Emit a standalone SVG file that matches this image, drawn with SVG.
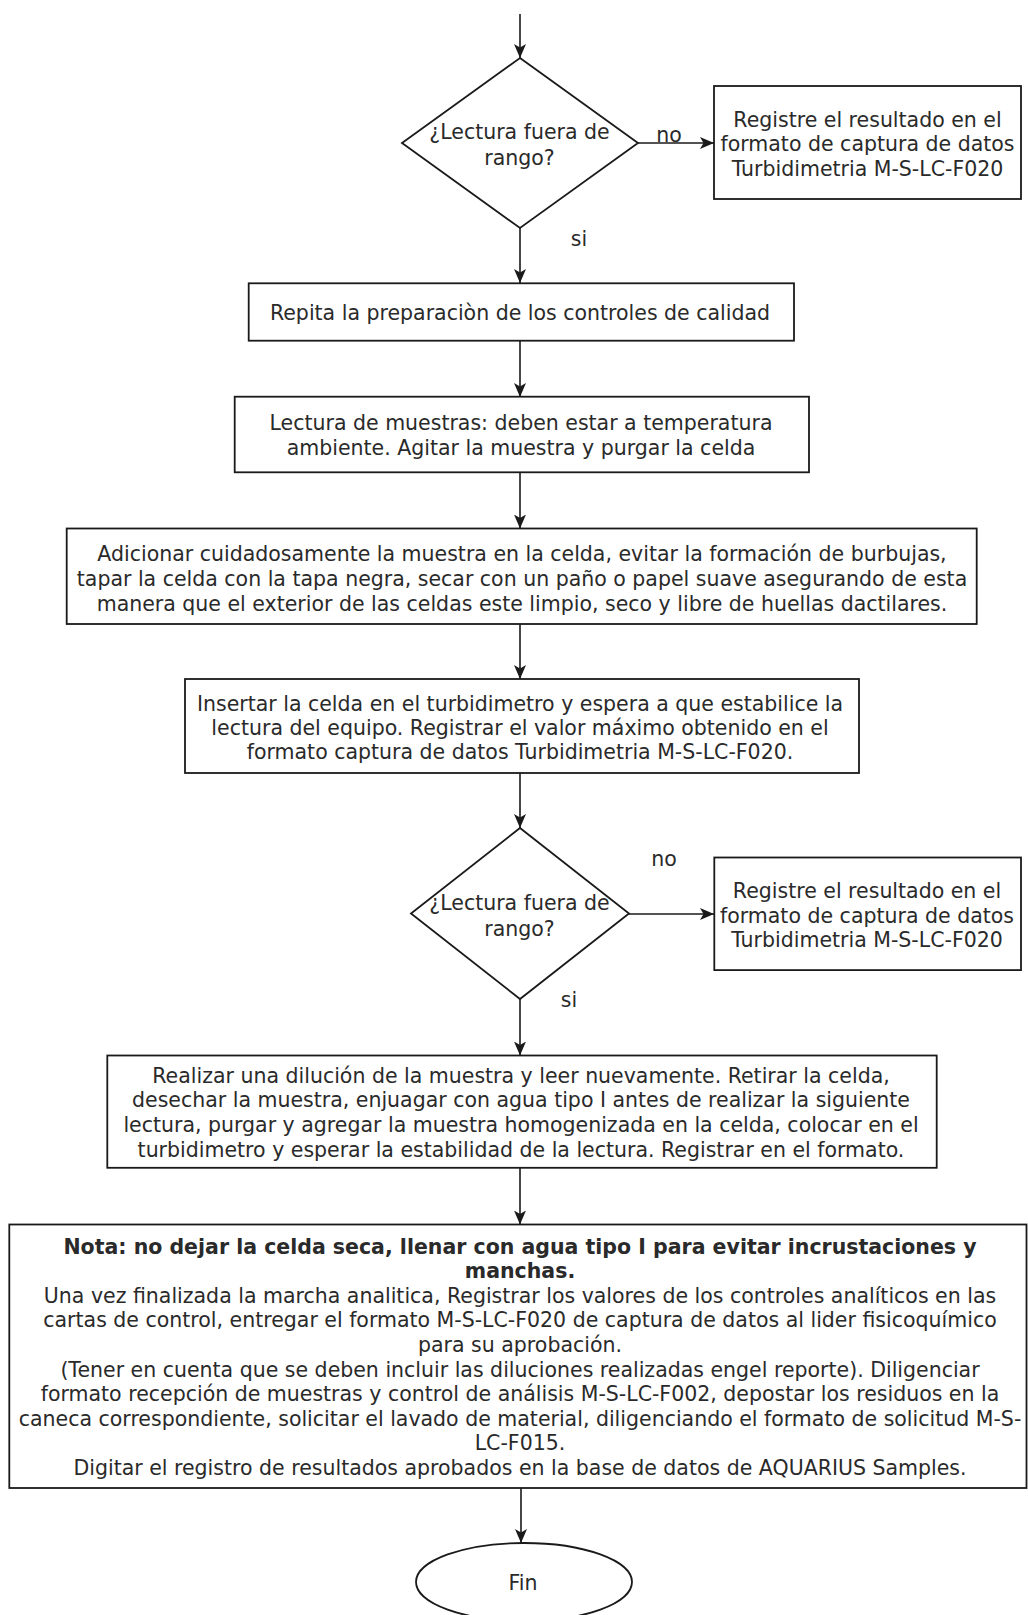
<svg xmlns="http://www.w3.org/2000/svg" width="1028" height="1615" viewBox="0 0 1028 1615">
<style>
.shape{fill:#fff;stroke:#1a1a1a;stroke-width:1.8}
.edge{fill:none;stroke:#1a1a1a;stroke-width:1.6}
text{font-family:"DejaVu Sans","Verdana",sans-serif;font-size:20.5px;fill:#2a2a2a;text-anchor:middle}
.b{font-weight:bold}
</style>
<defs>
<marker id="arr" markerUnits="userSpaceOnUse" markerWidth="14" markerHeight="12" refX="14" refY="6" orient="auto">
<path d="M0,0 L14,6 L0,12 L3.5,6 Z" fill="#1a1a1a"/>
</marker>
</defs>
<rect width="1028" height="1615" fill="#fff"/>
<g id="connectors">
<line class="edge" x1="520" y1="14" x2="520" y2="58" marker-end="url(#arr)"/>
<line class="edge" x1="638" y1="143" x2="714" y2="143" marker-end="url(#arr)"/>
<line class="edge" x1="520" y1="228" x2="520" y2="283" marker-end="url(#arr)"/>
<line class="edge" x1="520" y1="341" x2="520" y2="397" marker-end="url(#arr)"/>
<line class="edge" x1="520" y1="472" x2="520" y2="528.5" marker-end="url(#arr)"/>
<line class="edge" x1="520" y1="624" x2="520" y2="679" marker-end="url(#arr)"/>
<line class="edge" x1="520" y1="773" x2="520" y2="828" marker-end="url(#arr)"/>
<line class="edge" x1="629" y1="914" x2="714" y2="914" marker-end="url(#arr)"/>
<line class="edge" x1="520" y1="999" x2="520" y2="1055.5" marker-end="url(#arr)"/>
<line class="edge" x1="520" y1="1168" x2="520" y2="1224.5" marker-end="url(#arr)"/>
<line class="edge" x1="521" y1="1488" x2="521" y2="1543" marker-end="url(#arr)"/>
<text x="669" y="142">no</text>
<text x="579" y="246">si</text>
<text x="664" y="866">no</text>
<text x="569" y="1007">si</text>
</g>
<g id="decision1">
<polygon class="shape" points="520,58 638,143 520,228 402,143"/>
<text x="519.5" y="139">¿Lectura fuera de</text>
<text x="519.5" y="165">rango?</text>
</g>
<g id="registro1">
<rect class="shape" x="714" y="86" width="307" height="113"/>
<text x="867.5" y="127">Registre el resultado en el</text>
<text x="867.5" y="151">formato de captura de datos</text>
<text x="867.5" y="175.5">Turbidimetria M-S-LC-F020</text>
</g>
<g id="repita">
<rect class="shape" x="248.7" y="283.3" width="545.3" height="57.4"/>
<text x="520" y="320">Repita la preparaciòn de los controles de calidad</text>
</g>
<g id="lectura">
<rect class="shape" x="234.7" y="396.7" width="574.3" height="75.6"/>
<text x="521" y="429.7">Lectura de muestras: deben estar a temperatura</text>
<text x="521" y="455.3">ambiente. Agitar la muestra y purgar la celda</text>
</g>
<g id="adicionar">
<rect class="shape" x="66.7" y="528.5" width="910" height="95.5"/>
<text x="522" y="561.4">Adicionar cuidadosamente la muestra en la celda, evitar la formación de burbujas,</text>
<text x="522" y="586.2">tapar la celda con la tapa negra, secar con un paño o papel suave asegurando de esta</text>
<text x="522" y="610.7">manera que el exterior de las celdas este limpio, seco y libre de huellas dactilares.</text>
</g>
<g id="insertar">
<rect class="shape" x="185" y="679" width="674" height="94"/>
<text x="520" y="710.6">Insertar la celda en el turbidimetro y espera a que estabilice la</text>
<text x="520" y="734.7">lectura del equipo. Registrar el valor máximo obtenido en el</text>
<text x="520" y="758.8">formato captura de datos Turbidimetria M-S-LC-F020.</text>
</g>
<g id="decision2">
<polygon class="shape" points="520,828 629,913.5 520,999 411,913.5"/>
<text x="519.5" y="910.3">¿Lectura fuera de</text>
<text x="519.5" y="936.2">rango?</text>
</g>
<g id="registro2">
<rect class="shape" x="714.3" y="857.5" width="306.7" height="112.6"/>
<text x="867" y="898.3">Registre el resultado en el</text>
<text x="867" y="923">formato de captura de datos</text>
<text x="867" y="946.5">Turbidimetria M-S-LC-F020</text>
</g>
<g id="realizar">
<rect class="shape" x="107.3" y="1055.5" width="829.4" height="112.3"/>
<text x="521" y="1083">Realizar una dilución de la muestra y leer nuevamente. Retirar la celda,</text>
<text x="521" y="1107">desechar la muestra, enjuagar con agua tipo I antes de realizar la siguiente</text>
<text x="521" y="1132">lectura, purgar y agregar la muestra homogenizada en la celda, colocar en el</text>
<text x="521" y="1157">turbidimetro y esperar la estabilidad de la lectura. Registrar en el formato.</text>
</g>
<g id="nota">
<rect class="shape" x="9.3" y="1224.5" width="1017.2" height="263.5"/>
<text class="b" x="520" y="1253.5">Nota: no dejar la celda seca, llenar con agua tipo I para evitar incrustaciones y</text>
<text class="b" x="520" y="1278.1">manchas.</text>
<text x="520" y="1302.7">Una vez finalizada la marcha analitica, Registrar los valores de los controles analíticos en las</text>
<text x="520" y="1327.3">cartas de control, entregar el formato M-S-LC-F020 de captura de datos al lider fisicoquímico</text>
<text x="520" y="1351.9">para su aprobación.</text>
<text x="520" y="1376.5">(Tener en cuenta que se deben incluir las diluciones realizadas engel reporte). Diligenciar</text>
<text x="520" y="1401.1">formato recepción de muestras y control de análisis M-S-LC-F002, depostar los residuos en la</text>
<text x="520" y="1425.7">caneca correspondiente, solicitar el lavado de material, diligenciando el formato de solicitud M-S-</text>
<text x="520" y="1450.3">LC-F015.</text>
<text x="520" y="1474.9">Digitar el registro de resultados aprobados en la base de datos de AQUARIUS Samples.</text>
</g>
<g id="fin">
<ellipse class="shape" cx="524" cy="1582" rx="108" ry="39"/>
<text x="523" y="1590">Fin</text>
</g>
</svg>
